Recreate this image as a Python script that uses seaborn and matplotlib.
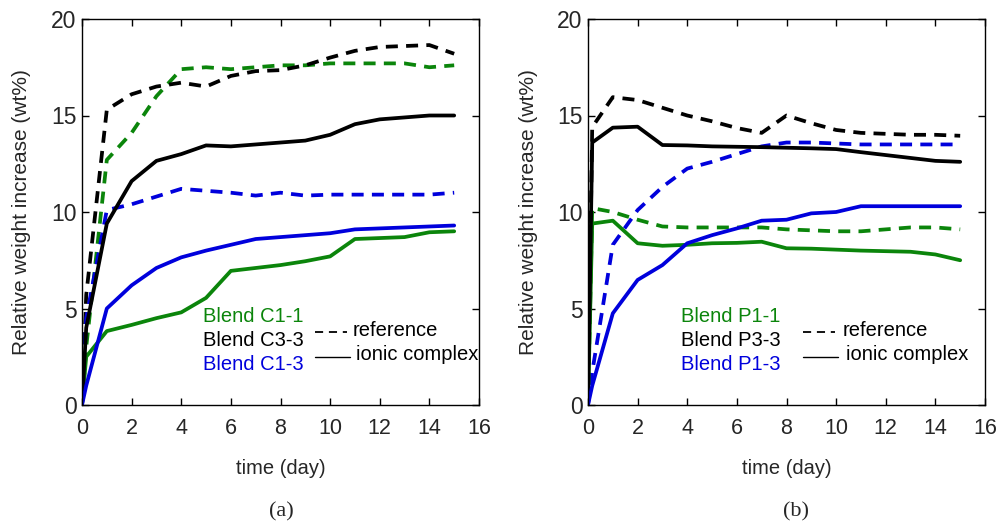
import matplotlib
matplotlib.use("Agg")
import matplotlib.pyplot as plt
import seaborn as sns
import numpy as np
import pandas as pd
from matplotlib.lines import Line2D

sns.set_theme(style="white")
plt.rcParams['font.family'] = ['Liberation Sans', 'DejaVu Sans']

days = [0, 0.17, 1, 2, 3, 4, 5, 6, 7, 8, 9, 10, 11, 12, 13, 14, 15]

# Panel (a)
c11_ref = [0, 3.0, 12.7, 14.1, 16.0, 17.4, 17.5, 17.4, 17.5, 17.6, 17.6, 17.7, 17.7, 17.7, 17.7, 17.5, 17.6]
c33_ref = [0, 5.7, 15.3, 16.1, 16.5, 16.7, 16.5, 17.05, 17.3, 17.35, 17.6, 18.0, 18.35, 18.55, 18.6, 18.65, 18.2]
c13_ref = [0, 4.5, 10.1, 10.4, 10.8, 11.2, 11.1, 11.0, 10.85, 11.0, 10.85, 10.9, 10.9, 10.9, 10.9, 10.9, 11.0]
c11_ion = [0, 2.5, 3.83, 4.15, 4.5, 4.8, 5.55, 6.95, 7.1, 7.25, 7.45, 7.7, 8.6, 8.65, 8.7, 8.95, 9.0]
c33_ion = [0, 4.0, 9.4, 11.6, 12.65, 13.0, 13.45, 13.4, 13.5, 13.6, 13.7, 14.0, 14.55, 14.8, 14.9, 15.0, 15.0]
c13_ion = [0, 1.0, 5.0, 6.2, 7.1, 7.65, 8.0, 8.3, 8.6, 8.7, 8.8, 8.9, 9.1, 9.15, 9.2, 9.25, 9.3]

# Panel (b)
p11_ref = [0, 10.2, 10.0, 9.6, 9.25, 9.2, 9.2, 9.2, 9.2, 9.1, 9.05, 9.0, 9.0, 9.1, 9.2, 9.2, 9.1]
p33_ref = [0, 14.4, 15.95, 15.8, 15.4, 15.0, 14.7, 14.35, 14.1, 15.0, 14.6, 14.25, 14.1, 14.05, 14.0, 14.0, 13.95]
p13_ref = [0, 1.7, 8.3, 10.1, 11.3, 12.25, 12.6, 13.0, 13.4, 13.6, 13.6, 13.55, 13.5, 13.5, 13.5, 13.5, 13.5]
p11_ion = [0, 9.4, 9.55, 8.38, 8.25, 8.3, 8.38, 8.4, 8.46, 8.12, 8.1, 8.05, 8.0, 7.97, 7.94, 7.8, 7.5]
p33_ion = [0, 13.6, 14.37, 14.42, 13.47, 13.45, 13.4, 13.38, 13.36, 13.33, 13.3, 13.26, 13.1, 12.95, 12.8, 12.65, 12.6]
p13_ion = [0, 1.0, 4.75, 6.48, 7.25, 8.38, 8.8, 9.15, 9.55, 9.6, 9.93, 10.0, 10.3, 10.3, 10.3, 10.3, 10.3]

labels_a = ["Blend C1-1", "Blend C3-3", "Blend C1-3"]
labels_b = ["Blend P1-1", "Blend P3-3", "Blend P1-3"]
xticks = [0, 2, 4, 6, 8, 10, 12, 14, 16]
yticks = [0, 5, 10, 15, 20]

GREEN = "#0b850b"
BLACK = "#000000"
BLUE = "#0000dc"
colors = [GREEN, BLACK, BLUE]

W, H = 998, 525
fig = plt.figure(figsize=(W / 100, H / 100), dpi=100)
fig.patch.set_facecolor("white")

def px(x, y):
    return x / W, 1 - y / H

ax_a = fig.add_axes([82 / W, (H - 405) / H, 397 / W, 386 / H])
ax_b = fig.add_axes([588 / W, (H - 405) / H, 397 / W, 386 / H])

DASH = (0, (3.2, 2.2))
LW = 2.7
NARROW = ['Liberation Sans Narrow', 'Liberation Sans']

def draw(ax, refs, ions):
    for vals, c in zip(refs, colors):
        sns.lineplot(x=days, y=vals, ax=ax, color=c, lw=LW, linestyle=DASH,
                     estimator=None, sort=False)
    for vals, c in zip(ions, colors):
        sns.lineplot(x=days, y=vals, ax=ax, color=c, lw=LW, linestyle="-",
                     estimator=None, sort=False)
    ax.set_xlim(0, 16)
    ax.set_ylim(0, 20)
    ax.set_xticks(xticks)
    ax.set_yticks(yticks)
    ax.set_xticklabels([str(t) for t in xticks], family=NARROW, fontsize=15.5)
    ax.set_yticklabels([str(t) for t in yticks], fontsize=16.5)
    ax.tick_params(axis='both', direction='in', length=5, width=1, color='black',
                   top=True, right=True, bottom=True, left=True)
    ax.tick_params(axis='x', pad=9)
    ax.tick_params(axis='y', pad=4)
    for s in ax.spines.values():
        s.set_color('black')
        s.set_linewidth(1.0)
        s.set_visible(True)
    ax.set_xlabel("time (day)", fontsize=14.5, family=NARROW, labelpad=15)
    ax.set_ylabel("Relative weight increase (wt%)", fontsize=15, labelpad=14)
    ax.set_facecolor("white")
    ax.grid(False)

draw(ax_a, [c11_ref, c33_ref, c13_ref], [c11_ion, c33_ion, c13_ion])
draw(ax_b, [p11_ref, p33_ref, p13_ref], [p11_ion, p33_ion, p13_ion])

def legend_block(x_text, x_line0, x_line1, x_lab, labels):
    ys = [317, 341, 365]
    for lab, c, y in zip(labels, colors, ys):
        fig.text(*px(x_text, y), lab, color=c, fontsize=14.5, ha='left', va='center')
    l1 = Line2D([x_line0 / W, x_line1 / W], [1 - 332 / H, 1 - 332 / H],
                color='black', lw=1.3, linestyle=(0, (4.5, 3.2)), transform=fig.transFigure)
    l2 = Line2D([x_line0 / W, (x_line1 + 3) / W], [1 - 357 / H, 1 - 357 / H],
                color='black', lw=1.0, linestyle='-', transform=fig.transFigure)
    fig.add_artist(l1)
    fig.add_artist(l2)
    fig.text(*px(x_lab, 331), "reference", color='black', fontsize=14.5, ha='left', va='center')
    fig.text(*px(x_lab + 3, 355), "ionic complex", color='black', fontsize=14.5, ha='left', va='center')

legend_block(203, 315, 347, 353, labels_a)
legend_block(681, 803, 835, 843, labels_b)

fig.text(*px(281, 512), "(a)", family=['Liberation Serif', 'DejaVu Serif'], fontsize=16,
         ha='center', va='center')
fig.text(*px(796, 512), "(b)", family=['Liberation Serif', 'DejaVu Serif'], fontsize=16,
         ha='center', va='center')

fig.savefig("out.png", dpi=100, facecolor="white")
